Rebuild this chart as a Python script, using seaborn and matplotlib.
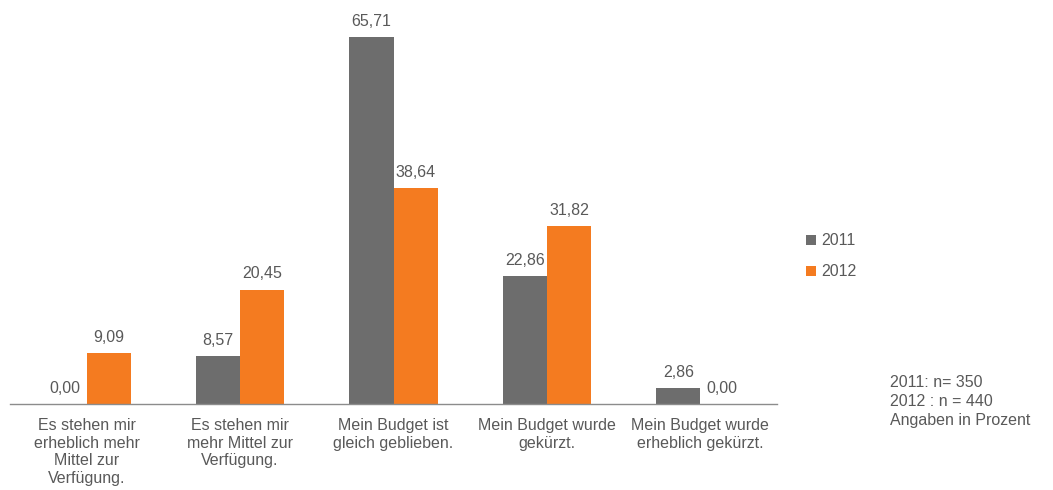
import matplotlib
matplotlib.use("Agg")
import matplotlib.pyplot as plt
import seaborn as sns
import pandas as pd
import numpy as np

categories = [
    "Es stehen mir\nerheblich mehr\nMittel zur\nVerfügung.",
    "Es stehen mir\nmehr Mittel zur\nVerfügung.",
    "Mein Budget ist\ngleich geblieben.",
    "Mein Budget wurde\ngekürzt.",
    "Mein Budget wurde\nerheblich gekürzt.",
]
values_2011 = [0.00, 8.57, 65.71, 22.86, 2.86]
values_2012 = [9.09, 20.45, 38.64, 31.82, 0.00]
series = ["2011", "2012"]
colors = ["#6d6d6d", "#f47b20"]
note = "2011: n= 350\n2012 : n = 440\nAngaben in Prozent"

sns.set_theme(style="white")
plt.rcParams["font.family"] = ["Liberation Sans", "DejaVu Sans"]
text_color = "#595959"
fs = 11.5

df = pd.DataFrame({
    "cat": categories * 2,
    "val": values_2011 + values_2012,
    "year": [series[0]] * 5 + [series[1]] * 5,
})

fig = plt.figure(figsize=(10.53, 4.90), dpi=100)
ax = fig.add_axes([10 / 1053, 1 - 404 / 490, 767 / 1053, 391 / 490])
sns.barplot(data=df, x="cat", y="val", hue="year", palette=colors,
            width=0.574, ax=ax, legend=False, saturation=1, linewidth=0)

ax.set_ylim(0, 70)
ax.set_xlim(-0.5, 4.5)
ax.set_ylabel("")
ax.set_xlabel("")
ax.set_yticks([])
for s in ["top", "right", "left"]:
    ax.spines[s].set_visible(False)
ax.spines["bottom"].set_color("#8c8c8c")
ax.spines["bottom"].set_linewidth(1)

ax.set_xticks(range(5))
ax.set_xticklabels(categories, fontsize=fs, color=text_color, linespacing=1.22)
ax.tick_params(axis="x", which="major", length=0, pad=10)
ax.set_xticks(np.arange(-0.5, 5, 1), minor=True)
ax.tick_params(axis="x", which="minor", length=5, color="#8c8c8c", width=1,
               direction="out")

for cont in ax.containers:
    labels = [f"{v:.2f}".replace(".", ",") for v in cont.datavalues]
    ax.bar_label(cont, labels=labels, padding=6, fontsize=fs, color=text_color)

# legend
from matplotlib.patches import Patch
handles = [Patch(facecolor=c, edgecolor="none") for c in colors]
leg = fig.legend(handles, series, loc="upper left",
                 bbox_to_anchor=(792 / 1053, 1 - 219 / 490), frameon=False,
                 fontsize=fs, handlelength=0.6, handleheight=0.6,
                 handletextpad=0.3, labelspacing=1.0, labelcolor=text_color)

fig.text(890 / 1053, 1 - 375 / 490, note, fontsize=fs, color=text_color,
         va="top", ha="left", linespacing=1.35)

fig.savefig("out.png", dpi=100)
